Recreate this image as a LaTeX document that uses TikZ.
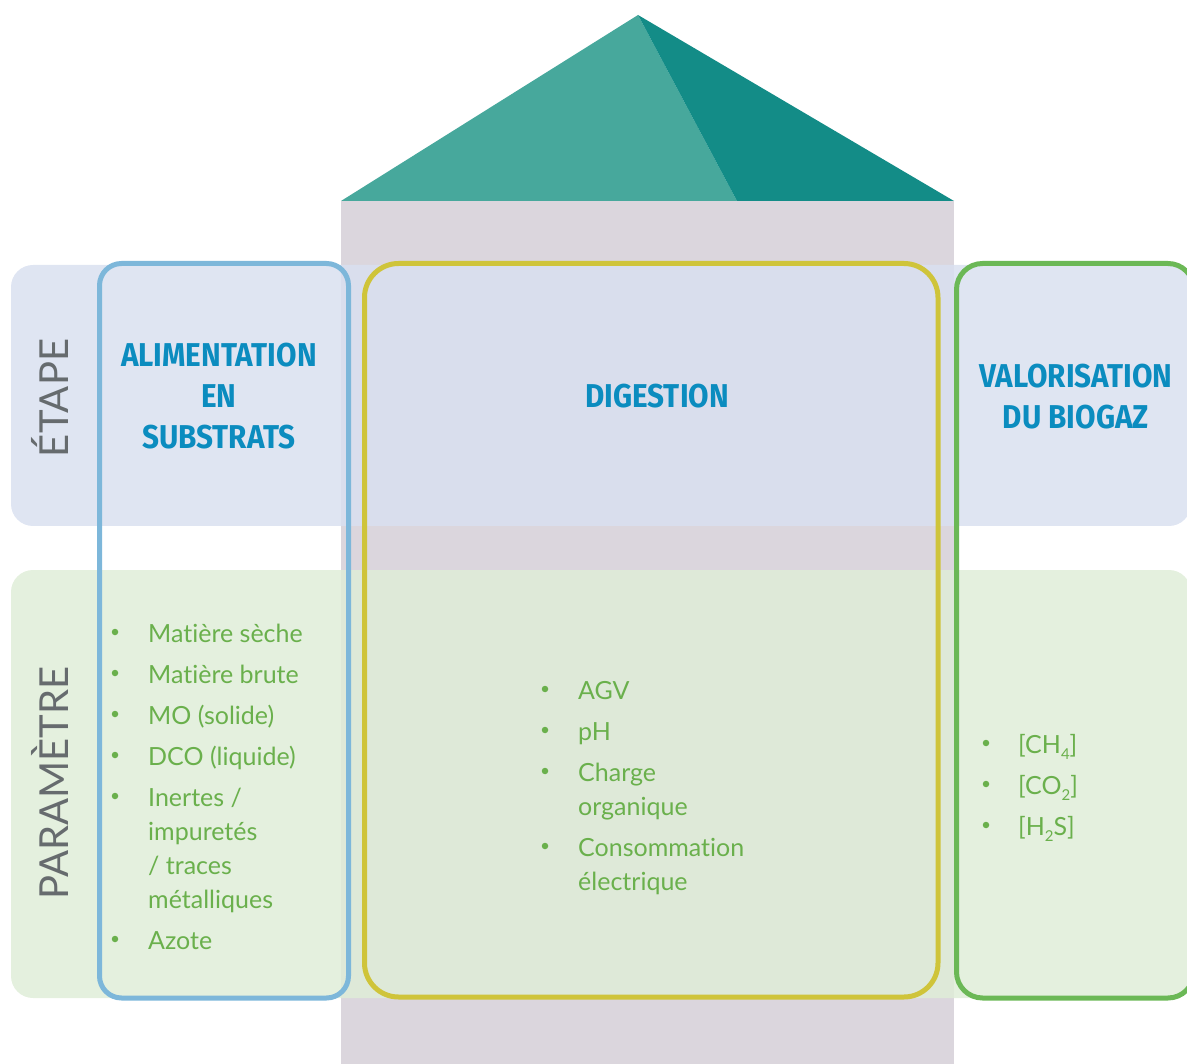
\documentclass[tikz,border=0pt]{standalone}
\usepackage{fontspec}
\setmainfont{Lato}[Ligatures={NoCommon}]
\newfontfamily\titlefont{Fira Sans}[FakeStretch=0.9,BoldFeatures={FakeStretch=0.9}]
\definecolor{roofL}{RGB}{71,168,156}
\definecolor{roofR}{RGB}{19,140,135}
\definecolor{column}{RGB}{219,214,221}
\definecolor{etapeband}{RGB}{217,224,240}
\definecolor{paramband}{RGB}{223,237,216}
\definecolor{boxblue}{RGB}{125,183,218}
\definecolor{boxyellow}{RGB}{207,196,58}
\definecolor{boxgreen}{RGB}{107,184,86}
\definecolor{titleblue}{RGB}{11,140,191}
\definecolor{itemgreen}{RGB}{106,176,76}
\definecolor{labelgray}{RGB}{102,107,110}
\newcommand\subidx[1]{\raisebox{-6pt}{\fontsize{15}{15}\selectfont #1}}
\begin{document}
\begin{tikzpicture}[x=1pt,y=-1pt,
  band/.style={fill=#1, fill opacity=0.85, rounded corners=22pt, draw=none},
  frame/.style={draw=#1, line width=5pt, rounded corners=26pt},
  title/.style={font=\titlefont\bfseries\fontsize{33}{41}\selectfont, text=titleblue, align=center, inner sep=0pt},
  side/.style={font=\fontsize{40}{40}\selectfont, text=labelgray, rotate=90, anchor=base, inner sep=0pt},
  item/.style={font=\fontsize{25}{30}\selectfont, text=itemgreen, anchor=base west, inner sep=0pt},
  bul/.style={circle, fill=itemgreen, minimum size=6.5pt, inner sep=0pt}]
\useasboundingbox (0,0) rectangle (1187,1064);
% column and roof
\fill[column] (341,201) rectangle (954,1064);
\fill[roofL] (341,201) -- (638,15) -- (737,201) -- cycle;
\fill[roofR] (638,15) -- (954,201) -- (737,201) -- cycle;
% bands
\path[band=etapeband] (11,265) rectangle (1191,526);
\path[band=paramband] (11,570) rectangle (1191,998);
% frames
\draw[frame=boxblue, rounded corners=22pt] (99.5,263.5) rectangle (348.5,998);
\draw[frame=boxyellow, rounded corners=34pt] (364.5,263.5) rectangle (938,997);
\draw[frame=boxgreen, rounded corners=26pt] (956.5,263.5) rectangle (1194,998);
% side labels
\node[side] (etape) at (68,398) {ÉTAPE};
\node[side] (param) at (68,783) {PARAMÈTRE};
% titles
\node[title] (t1) at (219,396.5) {ALIMENTATION\\EN\\SUBSTRATS};
\node[title] (t2) at (657,396.5) {DIGESTION};
\node[title] (t3) at (1076,396.5) {VALORISATION\\DU BIOGAZ};
% left list
\node[bul] (lb1) at (115,632) {};
\node[item] (l1) at (148,642) {Matière sèche};
\node[bul] (lb2) at (115,673) {};
\node[item] (l2) at (148,683) {Matière brute};
\node[bul] (lb3) at (115,714) {};
\node[item] (l3) at (148,724) {MO (solide)};
\node[bul] (lb4) at (115,755) {};
\node[item] (l4) at (148,765) {DCO (liquide)};
\node[bul] (lb5) at (115,796) {};
\node[item] (l5a) at (148,806) {Inertes /};
\node[item] (l5b) at (148,840) {impuretés};
\node[item] (l5c) at (148,874) {/ traces};
\node[item] (l5d) at (148,908) {métalliques};
\node[bul] (lb6) at (115,939) {};
\node[item] (l6) at (148,949) {Azote};
% middle list
\node[bul] (mb1) at (545,689) {};
\node[item] (m1) at (578,699) {AGV};
\node[bul] (mb2) at (545,730) {};
\node[item] (m2) at (578,740) {pH};
\node[bul] (mb3) at (545,771) {};
\node[item] (m3a) at (578,781) {Charge};
\node[item] (m3b) at (578,815) {organique};
\node[bul] (mb4) at (545,846) {};
\node[item] (m4a) at (578,856) {Consommation};
\node[item] (m4b) at (578,890) {électrique};
% right list
\node[bul] (rb1) at (986,743) {};
\node[item] (r1) at (1018,753) {[CH\subidx{4}]};
\node[bul] (rb2) at (986,784) {};
\node[item] (r2) at (1018,794) {[CO\subidx{2}]};
\node[bul] (rb3) at (986,825) {};
\node[item] (r3) at (1018,835) {[H\subidx{2}S]};
\end{tikzpicture}
\end{document}
